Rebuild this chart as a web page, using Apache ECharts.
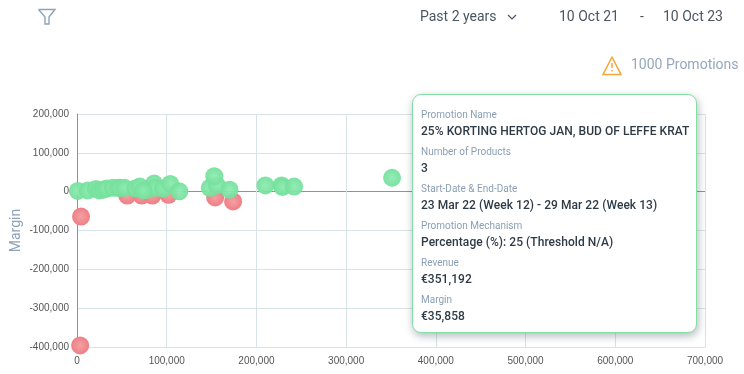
<!DOCTYPE html>
<html>
<head>
<meta charset="utf-8">
<style>
html, body { margin: 0; padding: 0; background: #fff; }
#main { width: 744px; height: 374px; }
</style>
<script src="https://cdn.jsdelivr.net/npm/echarts@6/dist/echarts.min.js"></script>
</head>
<body>
<div id="main"></div>
<script>
// [revenue, margin]
var lossPromotions = [
    [4500, -64000], [3500, -396000], [56000, -10000], [72000, -10000],
    [84000, -10000], [102000, -8000], [154000, -15000], [174000, -25000]
];
var profitPromotions = [
    [1000, 2000], [12000, 3000], [21000, 7000], [25000, 3000], [29000, 5000],
    [33000, 8000], [40000, 10000], [46000, 10000], [48000, 10000], [53000, 10000],
    [65000, 8000], [70000, 13000], [78000, 5000], [86000, 21000], [87000, 10000],
    [96000, 8000], [104000, 20000], [114000, 1000], [74000, 3000], [148000, 10000],
    [156000, 16000], [153000, 40000], [170000, 5000], [210000, 16000], [228000, 16000],
    [229000, 12000], [242000, 13000], [351192, 35858]
];
var tipLabels = ['Promotion Name', 'Number of Products', 'Start-Date & End-Date', 'Promotion Mechanism', 'Revenue', 'Margin'];
var tipValues = ['25% KORTING HERTOG JAN, BUD OF LEFFE KRAT', '3', '23 Mar 22 (Week 12) - 29 Mar 22 (Week 13)', 'Percentage (%): 25 (Threshold N/A)', '€351,192', '€35,858'];

var uiFont = 'Roboto, sans-serif';
var axisFont = '"Liberation Sans", Arial, sans-serif';

function ball(inner, outer) {
    return new echarts.graphic.RadialGradient(0.5, 0.5, 0.5, [
        { offset: 0, color: inner },
        { offset: 1, color: outer }
    ]);
}

var myChart = echarts.init(document.getElementById('main'));

var option = {
    animation: false,
    grid: { left: 77, right: 39, top: 114, bottom: 27, outerBoundsMode: 'none' },
    tooltip: {
        trigger: 'item',
        alwaysShowContent: true,
        transitionDuration: 0,
        position: [412, 94],
        padding: 0,
        backgroundColor: '#fff',
        borderColor: '#84dfa4',
        borderWidth: 1,
        extraCssText: 'width:285px;height:239px;box-sizing:border-box;border-radius:9px;box-shadow:1px 3px 8px rgba(60,80,90,0.4);padding:13px 8px 0 8px;',
        formatter: function() {
            var html = '';
            for (var i = 0; i < tipLabels.length; i++) {
                html += '<div style="font:400 10px/13px Roboto,sans-serif;color:#8a9fb5;">' + tipLabels[i] + '</div>' +
                    '<div style="font:500 12px/18px Roboto,sans-serif;letter-spacing:0.05px;color:#2e3b47;margin:1px 0 5px 0;white-space:nowrap;">' + tipValues[i].replace('&', '&amp;') + '</div>';
            }
            return html;
        }
    },
    xAxis: {
        type: 'value',
        min: 0,
        max: 700000,
        interval: 100000,
        axisLine: { onZero: false, lineStyle: { color: '#d8e3e6' } },
        axisTick: { show: false },
        axisLabel: { color: '#555', fontSize: 10, fontFamily: axisFont, margin: 9 },
        splitLine: { show: true, lineStyle: { color: '#d8e3e6' } }
    },
    yAxis: {
        type: 'value',
        min: -400000,
        max: 200000,
        interval: 100000,
        name: 'Margin',
        nameLocation: 'middle',
        nameGap: 54,
        nameMoveOverlap: false,
        nameTextStyle: { color: '#8ea3b9', fontSize: 14, fontFamily: uiFont },
        axisLine: { show: true, onZero: false, lineStyle: { color: '#8a949e' } },
        axisTick: { show: false },
        axisLabel: { color: '#555', fontSize: 10, fontFamily: axisFont, margin: 8 },
        // index 4 is the zero line
        splitLine: { show: true, lineStyle: { color: ['#d8e3e6', '#d8e3e6', '#d8e3e6', '#d8e3e6', '#8a949e', '#d8e3e6', '#d8e3e6'] } }
    },
    series: [
        {
            name: 'Loss',
            type: 'scatter',
            symbolSize: 18,
            data: lossPromotions,
            itemStyle: { color: ball('#f4a0a4', '#ee7f85'), opacity: 1 },
            emphasis: { scale: false }
        },
        {
            name: 'Profit',
            type: 'scatter',
            symbolSize: 18,
            data: profitPromotions,
            itemStyle: { color: ball('#8eebb2', '#74e09b'), opacity: 0.95 },
            emphasis: { scale: false }
        }
    ],
    graphic: [
        // filter icon
        { type: 'polyline', shape: { points: [[38.5, 9.5], [55, 9.5], [49, 17], [49, 24], [45, 24], [45, 17], [38.5, 9.5]] },
          style: { fill: 'none', stroke: '#8ea3b9', lineWidth: 1.4 } },
        { type: 'text', style: { x: 420, y: 17, text: 'Past 2 years', font: '14px ' + uiFont, fill: '#4a5661', textVerticalAlign: 'middle' } },
        { type: 'polyline', shape: { points: [[508, 15], [512, 19], [516, 15]] },
          style: { fill: 'none', stroke: '#4a5661', lineWidth: 1.2 } },
        { type: 'text', style: { x: 559, y: 17, text: '10 Oct 21', font: '14px ' + uiFont, fill: '#4a5661', textVerticalAlign: 'middle' } },
        { type: 'text', style: { x: 640, y: 17, text: '-', font: '14px ' + uiFont, fill: '#4a5661', textVerticalAlign: 'middle' } },
        { type: 'text', style: { x: 663, y: 17, text: '10 Oct 23', font: '14px ' + uiFont, fill: '#4a5661', textVerticalAlign: 'middle' } },
        // warning icon
        { type: 'polygon', shape: { points: [[612, 57], [603, 74.5], [621, 74.5]] },
          style: { fill: 'none', stroke: '#f5a63a', lineWidth: 1.6, lineJoin: 'round' } },
        { type: 'line', shape: { x1: 612, y1: 63, x2: 612, y2: 68 }, style: { stroke: '#f5a63a', lineWidth: 1.5 } },
        { type: 'line', shape: { x1: 612, y1: 70, x2: 612, y2: 71.5 }, style: { stroke: '#f5a63a', lineWidth: 1.5 } },
        { type: 'text', style: { x: 631, y: 65, text: '1000 Promotions', font: '14px ' + uiFont, fill: '#95a8bc', textVerticalAlign: 'middle' } }
    ]
};

myChart.setOption(option);
myChart.dispatchAction({ type: 'showTip', seriesIndex: 1, dataIndex: profitPromotions.length - 1 });
</script>
</body>
</html>
